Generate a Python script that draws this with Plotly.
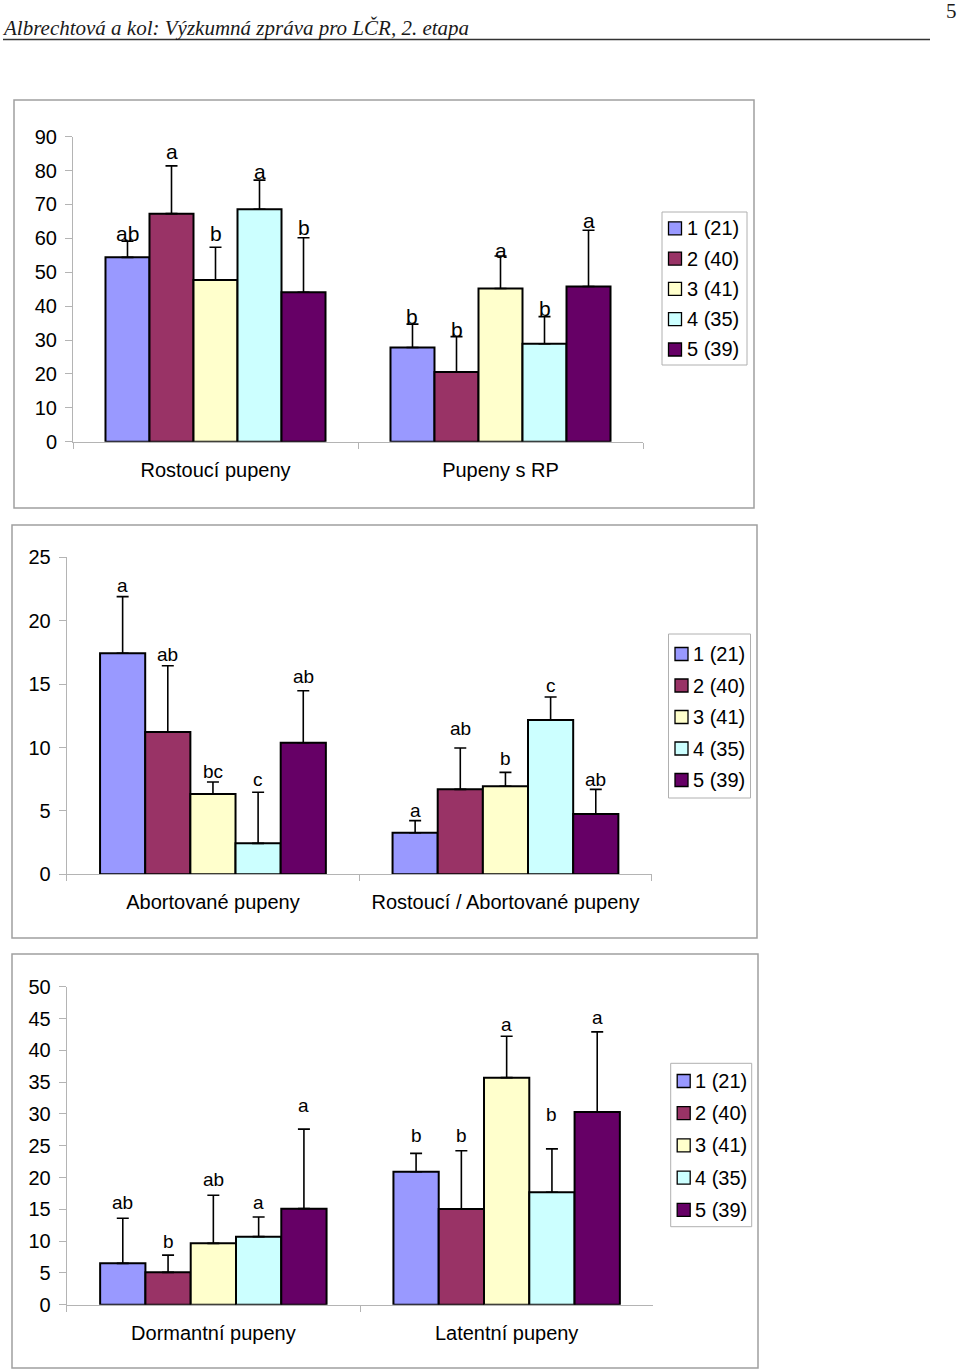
import plotly.graph_objects as go

# ---------------- data ----------------
SERIES = ["1 (21)", "2 (40)", "3 (41)", "4 (35)", "5 (39)"]
COLORS = ["#9999FF", "#993366", "#FFFFCC", "#CCFFFF", "#660066"]

# Panel 1
CATS_1 = ["Rostoucí pupeny", "Pupeny s RP"]
MEANS_1 = [[54.4, 27.8], [67.3, 20.6], [47.7, 45.2], [68.6, 28.9], [44.1, 45.8]]
ERRS_1 = [[4.8, 6.9], [14.1, 10.4], [9.7, 9.6], [8.6, 8.0], [16.1, 16.6]]
LETTERS_1 = [["ab", "b"], ["a", "b"], ["b", "a"], ["a", "b"], ["b", "a"]]
LETTER_Y_1 = [[61.3, 36.8], [85.5, 33.0], [61.3, 56.5], [79.6, 39.4], [63.3, 65.4]]

# Panel 2
CATS_2 = ["Abortované pupeny", "Rostoucí / Abortované pupeny"]
MEANS_2 = [[17.43, 3.28], [11.22, 6.70], [6.33, 6.94], [2.44, 12.17], [10.38, 4.76]]
ERRS_2 = [[4.47, 0.95], [5.23, 3.26], [0.95, 1.10], [4.03, 1.81], [4.10, 1.94]]
LETTERS_2 = [["a", "a"], ["ab", "ab"], ["bc", "b"], ["c", "c"], ["ab", "ab"]]
LETTER_Y_2 = [[22.8, 5.07], [17.3, 11.5], [8.1, 9.1], [7.44, 14.9], [15.6, 7.44]]

# Panel 3
CATS_3 = ["Dormantní pupeny", "Latentní pupeny"]
MEANS_3 = [[6.5, 20.9], [5.09, 15.05], [9.65, 35.7], [10.7, 17.67], [15.1, 30.3]]
ERRS_3 = [[7.1, 2.9], [2.71, 9.15], [7.55, 6.5], [3.1, 6.83], [12.5, 12.6]]
LETTERS_3 = [["ab", "b"], ["b", "b"], ["ab", "a"], ["a", "b"], ["a", "a"]]
LETTER_Y_3 = [[16.1, 26.6], [10.0, 26.6], [19.7, 44.0], [16.1, 29.9], [31.3, 45.1]]

Y_MAX = [90, 25, 50]
Y_DTICK = [10, 5, 5]

HEADER = "Albrechtová a kol: Výzkumná zpráva pro LČR, 2. etapa"
PAGE_NO = "5"

# ---------------- layout helpers ----------------
W, H = 960, 1371
FONT = "Liberation Sans, Arial, sans-serif"
SERIF = "Liberation Serif, Times New Roman, serif"
AXIS_GRAY = "#b4b4b4"
BORDER_GRAY = "#a0a0a0"
BARGAP = 0.228


def px_x(v):
    return v / W


def px_y(v):
    return 1 - v / H


panels = [
    dict(cats=CATS_1, means=MEANS_1, errs=ERRS_1, letters=LETTERS_1, ly=LETTER_Y_1,
         plot=(73, 643, 136.7, 441.7), box=(14, 754, 100, 508),
         legend=(662, 747, 212, 365, 228.3, 30.3), lfont=21),
    dict(cats=CATS_2, means=MEANS_2, errs=ERRS_2, letters=LETTERS_2, ly=LETTER_Y_2,
         plot=(66.7, 651.7, 557.3, 874.3), box=(12, 757, 525, 938),
         legend=(668.5, 750.5, 634, 798, 654, 31.5), lfont=19),
    dict(cats=CATS_3, means=MEANS_3, errs=ERRS_3, letters=LETTERS_3, ly=LETTER_Y_3,
         plot=(66.7, 653.3, 986.7, 1304.7), box=(12, 758, 954, 1368),
         legend=(670.7, 751.7, 1063.3, 1226.7, 1081, 32.2), lfont=19),
]

fig = go.Figure()
layout = dict(
    width=W, height=H, margin=dict(l=0, r=0, t=0, b=0, pad=0, autoexpand=False),
    paper_bgcolor="white", plot_bgcolor="white",
    barmode="group", bargap=BARGAP, bargroupgap=0,
    font=dict(family=FONT, size=20, color="black"),
    showlegend=False,
)
shapes = []
annotations = []

n = len(SERIES)
for p_i, p in enumerate(panels):
    k = p_i + 1
    xa = "x" if k == 1 else f"x{k}"
    ya = "y" if k == 1 else f"y{k}"
    for s in range(n):
        fig.add_trace(go.Bar(
            x=p["cats"], y=p["means"][s], name=SERIES[s],
            marker=dict(color=COLORS[s], line=dict(color="black", width=2)),
            error_y=dict(type="data", array=p["errs"][s], arrayminus=[0] * len(p["cats"]),
                         symmetric=False, color="black", thickness=1.6, width=6),
            xaxis=xa, yaxis=ya, showlegend=False, hoverinfo="skip",
        ))
    x0, x1, y0, y1 = p["plot"]
    layout["xaxis" if k == 1 else f"xaxis{k}"] = dict(
        domain=[px_x(x0), px_x(x1)], anchor=ya, type="category", automargin=False,
        showline=True, linecolor=AXIS_GRAY, linewidth=1,
        ticks="outside", tickson="boundaries", ticklen=6, tickcolor=AXIS_GRAY,
        showgrid=False, zeroline=False, tickfont=dict(size=20, family=FONT),
        ticklabelstandoff=10, fixedrange=True,
    )
    layout["yaxis" if k == 1 else f"yaxis{k}"] = dict(
        domain=[px_y(y1), px_y(y0)], anchor=xa, automargin=False,
        range=[0, Y_MAX[p_i]], dtick=Y_DTICK[p_i], tick0=0,
        showline=True, linecolor=AXIS_GRAY, linewidth=1,
        ticks="outside", ticklen=7, tickcolor=AXIS_GRAY,
        showgrid=False, zeroline=False, tickfont=dict(size=20, family=FONT),
        ticklabelstandoff=4, fixedrange=True,
    )
    # panel frame
    bx0, bx1, by0, by1 = p["box"]
    shapes.append(dict(type="rect", xref="paper", yref="paper",
                       x0=px_x(bx0), x1=px_x(bx1), y0=px_y(by1), y1=px_y(by0),
                       line=dict(color=BORDER_GRAY, width=1.5), layer="below"))
    # legend box, swatches and labels
    lx0, lx1, ly0, ly1, first_y, step = p["legend"]
    shapes.append(dict(type="rect", xref="paper", yref="paper",
                       x0=px_x(lx0), x1=px_x(lx1), y0=px_y(ly1), y1=px_y(ly0),
                       line=dict(color="#b0b0b0", width=1), fillcolor="white", layer="below"))
    for s in range(n):
        cy = first_y + s * step
        shapes.append(dict(type="rect", xref="paper", yref="paper",
                           x0=px_x(lx0 + 6.5), x1=px_x(lx0 + 19.5),
                           y0=px_y(cy + 6.5), y1=px_y(cy - 6.5),
                           line=dict(color="black", width=1.3), fillcolor=COLORS[s]))
        annotations.append(dict(x=px_x(lx0 + 22.5), y=px_y(cy), xref="paper", yref="paper",
                                xanchor="left", yanchor="middle", text=SERIES[s],
                                showarrow=False, font=dict(size=20, family=FONT, color="black")))
    # significance letters
    span = 1 - BARGAP
    bw = span / n
    for s in range(n):
        for c in range(len(p["cats"])):
            annotations.append(dict(
                x=c - span / 2 + (s + 0.5) * bw, y=p["ly"][s][c],
                xref=xa, yref=ya, text=p["letters"][s][c], showarrow=False,
                xanchor="center", yanchor="middle",
                font=dict(size=p["lfont"], family=FONT, color="black"),
            ))

# header
annotations.append(dict(x=px_x(0), y=px_y(42), xref="paper", yref="paper",
                        xanchor="left", yanchor="bottom", text=f"<i>{HEADER}</i>",
                        showarrow=False, font=dict(family=SERIF, size=21, color="#1a1a1a")))
annotations.append(dict(x=px_x(959), y=px_y(-3), xref="paper", yref="paper",
                        xanchor="right", yanchor="top", text=PAGE_NO, showarrow=False,
                        font=dict(family=SERIF, size=21, color="#1a1a1a")))
shapes.append(dict(type="line", xref="paper", yref="paper",
                   x0=px_x(3), x1=px_x(930), y0=px_y(39.5), y1=px_y(39.5),
                   line=dict(color="#333333", width=1.5)))

layout["shapes"] = shapes
layout["annotations"] = annotations
fig.update_layout(**layout)
fig.write_html("out.html")
